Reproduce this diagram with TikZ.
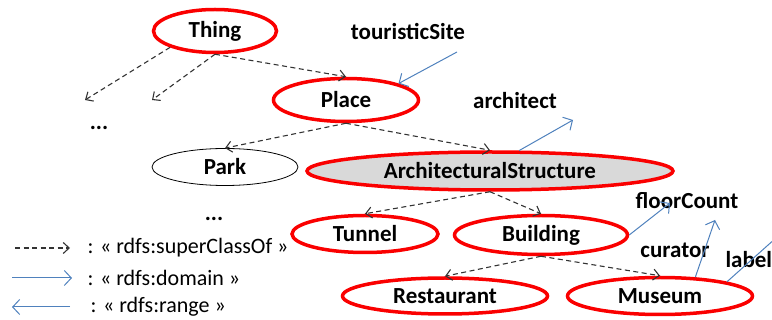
\documentclass[tikz,border=0pt]{standalone}
\usepackage{fontspec}
\setmainfont{Carlito}
\usepackage{xcolor}
\usetikzlibrary{arrows.meta, shapes.geometric}

\definecolor{ontored}{RGB}{250,0,0}
\definecolor{ontoblue}{RGB}{79,129,189}
\definecolor{ontogray}{RGB}{217,217,217}

\begin{document}
\begin{tikzpicture}[
    x=1pt, y=-1pt,
    every node/.style={font=\fontsize{23}{26}\selectfont\bfseries},
    cls/.style={ellipse, draw=ontored, line width=3.5pt, inner sep=0pt},
    other/.style={ellipse, draw=black, line width=0.8pt, inner sep=0pt},
    sub/.style={-{Straight Barb[length=6pt, width=11pt]}, dashed, dash pattern=on 5pt off 3.5pt, line width=1.1pt, draw=black!80},
    prop/.style={-{Straight Barb[length=7pt, width=15pt]}, draw=ontoblue, line width=1pt},
    legend/.style={font=\fontsize{22}{25}\selectfont, anchor=west}
]
\useasboundingbox (0,0) rectangle (772,320);

% classes
\node[cls, minimum width=123pt, minimum height=43pt] (thing) at (215,31) {Thing};
\node[cls, minimum width=145pt, minimum height=43pt] (place) at (346,100) {Place};
\node[other, minimum width=146pt, minimum height=37pt] (park) at (225,167) {Park};
\node[cls, fill=ontogray, minimum width=366pt, minimum height=38pt] (arch) at (490,171) {ArchitecturalStructure};
\node[cls, minimum width=146pt, minimum height=37pt] (tunnel) at (365,234) {Tunnel};
\node[cls, minimum width=173pt, minimum height=39pt] (building) at (541,235) {Building};
\node[cls, minimum width=205pt, minimum height=36pt] (restaurant) at (445,296) {Restaurant};
\node[cls, minimum width=185pt, minimum height=37pt] (museum) at (660,296) {Museum};

\node (dotsa) at (99,128) {...};
\node (dotsb) at (214,219) {...};

% properties
\node (touristic) at (408,32) {touristicSite};
\node (architect) at (515,101) {architect};
\node (floor) at (687,201) {floorCount};
\node (curator) at (675,250) {curator};
\node[anchor=west] (labelprop) at (722,260) {label};

\coordinate (thingA) at (85,100);
\coordinate (thingB) at (152,100);
\coordinate (touristicEnd) at (457,52);
\coordinate (architectEnd) at (573,120);
\coordinate (floorEnd) at (670,203);
\coordinate (curatorEnd) at (715,220);
\coordinate (labelEnd) at (786,229);

% subclass links
\draw[sub] (thing.200) -- (thingA);
\draw[sub] (thing.south) -- (thingB);
\draw[sub] (thing.south) -- (place.north);
\draw[sub] (place.south) -- (park.north);
\draw[sub] (place.south) -- (arch.north);
\draw[sub] (arch.south) -- (tunnel.north);
\draw[sub] (arch.south) -- (building.north);
\draw[sub] (building.south) -- (restaurant.north);
\draw[sub] (building.south) -- (museum.north);

% domain / range links
\draw[prop] (touristicEnd) -- (place.north east);
\draw[prop] (arch.35) -- (architectEnd);
\draw[prop] (building.east) -- (floorEnd);
\draw[prop] (museum.28) -- (curatorEnd);
\draw[prop] (museum.12) -- (labelEnd);

% legend
\coordinate (subA) at (15,248);
\coordinate (subB) at (70,248);
\coordinate (domA) at (12,278);
\coordinate (domB) at (72,278);
\coordinate (ranA) at (70,307);
\coordinate (ranB) at (12,307);
\draw[sub] (subA) -- (subB);
\draw[prop] (domA) -- (domB);
\draw[prop] (ranA) -- (ranB);
\node[legend] (subtxt) at (84,248) {: « rdfs:superClassOf »};
\node[legend] (domtxt) at (84,278) {: « rdfs:domain »};
\node[legend] (rantxt) at (87,307) {: « rdfs:range »};

\end{tikzpicture}
\end{document}
